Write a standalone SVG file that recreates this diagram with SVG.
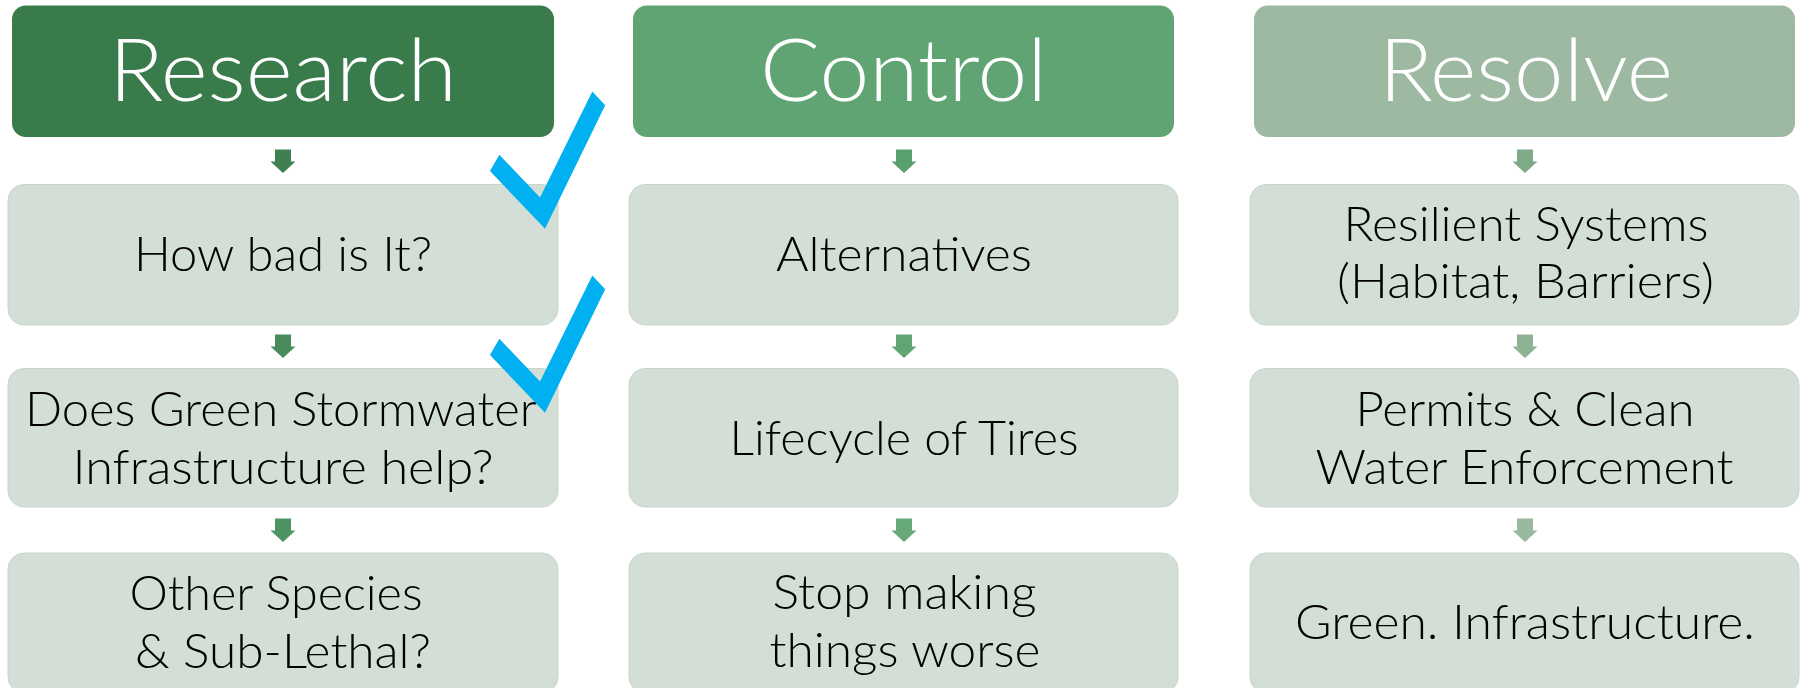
<svg xmlns="http://www.w3.org/2000/svg" width="1807" height="688" viewBox="0 0 1807 688">
<style>
  .hdr { font-family: Lato, "Open Sans", "Liberation Sans", sans-serif; font-weight: 300; font-size: 87px; fill: #ffffff; text-anchor: middle; }
  .txt { font-family: Lato, "Open Sans", "Liberation Sans", sans-serif; font-weight: 300; font-size: 48px; fill: #000000; text-anchor: middle; }
  .box { fill: #d3ded6; stroke: #c8d6cc; stroke-width: 1; }
  .check { fill: #00b0f0; }
</style>
<defs>
  <path id="arw" d="M-8,0 H8 V12 H12.5 L0,23.5 L-12.5,12 H-8 Z"/>
  <polygon id="chk" points="490,171 499.3,154.7 540,197.5 592.3,91.5 605.2,105.2 545,228.8"/>
</defs>
<rect width="1807" height="688" fill="#ffffff"/>

<g id="research">
  <rect x="12" y="5.5" width="542" height="131.5" rx="14" fill="#3a7b4b"/>
  <text class="hdr" x="283" y="100.5" textLength="348" lengthAdjust="spacingAndGlyphs">Research</text>
</g>
<g id="control">
  <rect x="633" y="5.5" width="541" height="131.5" rx="14" fill="#5fa472"/>
  <text class="hdr" x="903.5" y="100.5" textLength="287" lengthAdjust="spacingAndGlyphs">Control</text>
</g>
<g id="resolve">
  <rect x="1254" y="5.5" width="541" height="131.5" rx="14" fill="#9db9a2"/>
  <text class="hdr" x="1526" y="100.5" textLength="294" lengthAdjust="spacingAndGlyphs">Resolve</text>
</g>

<g id="how-bad">
  <rect class="box" x="8" y="184.5" width="550" height="140.5" rx="16"/>
  <text class="txt" x="283" y="271" textLength="298" lengthAdjust="spacingAndGlyphs">How bad is It?</text>
</g>
<g id="green-stormwater">
  <rect class="box" x="8" y="368.5" width="550" height="138.5" rx="16"/>
  <text class="txt" x="281" y="425.5" textLength="512" lengthAdjust="spacingAndGlyphs">Does Green Stormwater</text>
  <text class="txt" x="283" y="483.5" textLength="421" lengthAdjust="spacingAndGlyphs">Infrastructure help?</text>
</g>
<g id="other-species">
  <rect class="box" x="8" y="553" width="550" height="140" rx="16"/>
  <text class="txt" x="276" y="609.5" textLength="293" lengthAdjust="spacingAndGlyphs">Other Species</text>
  <text class="txt" x="283" y="667.5" textLength="296" lengthAdjust="spacingAndGlyphs">&amp; Sub-Lethal?</text>
</g>

<g id="alternatives">
  <rect class="box" x="629" y="184.5" width="549" height="140.5" rx="16"/>
  <text class="txt" x="904" y="271" textLength="256" lengthAdjust="spacingAndGlyphs">Alternatives</text>
</g>
<g id="lifecycle">
  <rect class="box" x="629" y="368.5" width="549" height="138.5" rx="16"/>
  <text class="txt" x="904" y="455" textLength="349" lengthAdjust="spacingAndGlyphs">Lifecycle of Tires</text>
</g>
<g id="stop-making">
  <rect class="box" x="629" y="553" width="549" height="140" rx="16"/>
  <text class="txt" x="904.5" y="608.5" textLength="264" lengthAdjust="spacingAndGlyphs">Stop making</text>
  <text class="txt" x="905" y="666.5" textLength="271" lengthAdjust="spacingAndGlyphs">things worse</text>
</g>

<g id="resilient">
  <rect class="box" x="1250" y="184.5" width="549" height="140.5" rx="16"/>
  <text class="txt" x="1526" y="241" textLength="365" lengthAdjust="spacingAndGlyphs">Resilient Systems</text>
  <text class="txt" x="1525.5" y="298" textLength="377" lengthAdjust="spacingAndGlyphs">(Habitat, Barriers)</text>
</g>
<g id="permits">
  <rect class="box" x="1250" y="368.5" width="549" height="138.5" rx="16"/>
  <text class="txt" x="1525" y="425.5" textLength="339" lengthAdjust="spacingAndGlyphs">Permits &amp; Clean</text>
  <text class="txt" x="1524.5" y="483.5" textLength="418" lengthAdjust="spacingAndGlyphs">Water Enforcement</text>
</g>
<g id="green-infra">
  <rect class="box" x="1250" y="553" width="549" height="140" rx="16"/>
  <text class="txt" x="1525" y="639" textLength="460" lengthAdjust="spacingAndGlyphs">Green. Infrastructure.</text>
</g>

<g id="connectors">
  <use href="#arw" x="283" y="149.5" fill="#3f7f50"/>
  <use href="#arw" x="283" y="334.5" fill="#488c5b"/>
  <use href="#arw" x="283" y="518.5" fill="#4e9362"/>
  <use href="#arw" x="904" y="149.5" fill="#5a9f6e"/>
  <use href="#arw" x="904" y="334.5" fill="#62a575"/>
  <use href="#arw" x="904" y="518.5" fill="#68a97b"/>
  <use href="#arw" x="1525" y="149.5" fill="#7eaa86"/>
  <use href="#arw" x="1525" y="334.5" fill="#8db394"/>
  <use href="#arw" x="1525" y="518.5" fill="#98b99f"/>
</g>

<g id="checkmarks">
  <use href="#chk" class="check"/>
  <use href="#chk" class="check" y="184"/>
</g>
</svg>
